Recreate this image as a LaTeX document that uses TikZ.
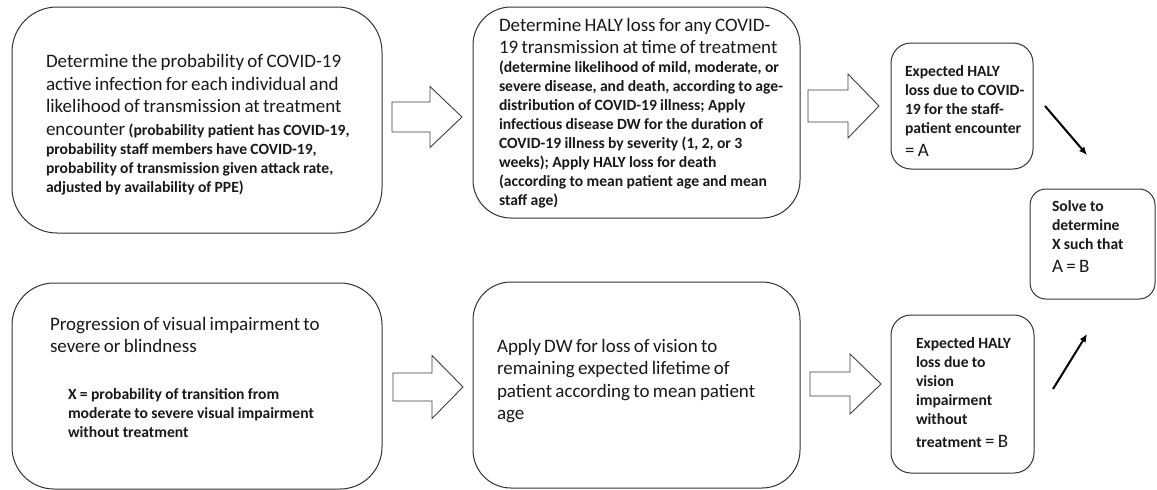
\documentclass[tikz,border=0pt]{standalone}
\usepackage{fontspec}
\setmainfont{Carlito}
\usetikzlibrary{arrows.meta}
\setlength{\parindent}{0pt}
\newcommand\fbig{\fontsize{19}{22.5}\selectfont\mdseries}
\newcommand\fsml{\fontsize{15.6}{19}\selectfont\bfseries}
\newcommand\firstln{\rule{0pt}{14pt}}
\newcommand\blkarrow[6]{%
  \draw[blockarr] (#1,#4-#5) -- (#2,#4-#5) -- (#2,#4-#6) -- (#3,#4) -- (#2,#4+#6) -- (#2,#4+#5) -- (#1,#4+#5) -- cycle;}
\begin{document}
\begin{tikzpicture}[x=1pt,y=-1pt,
  box/.style={draw=black!80, line width=1pt, rectangle, rounded corners=#1, inner sep=0pt, outer sep=0pt, fill=white},
  txt/.style={anchor=north west, inner sep=0pt, outer sep=0pt, align=left, text width=400pt, text=black!90},
  blockarr/.style={draw=black!75, line width=0.9pt, fill=white, line join=miter},
  diag/.style={draw=black, line width=2pt, -{Latex[length=8pt,width=7pt]}}
]
\useasboundingbox[fill=white] (0,0) rectangle (1157,490);

% boxes
\node[box=45pt, minimum width=370pt, minimum height=226pt] (b1) at (197,120) {};
\node[box=38pt, minimum width=327pt, minimum height=211pt] (b2) at (636.5,112.5) {};
\node[box=20pt, minimum width=142pt, minimum height=126pt] (b3) at (962,106) {};
\node[box=16pt, minimum width=125pt, minimum height=110pt] (b4) at (1092.5,244) {};
\node[box=20pt, minimum width=143pt, minimum height=158pt] (b5) at (962.5,394) {};
\node[box=42pt, minimum width=370pt, minimum height=206pt] (b6) at (197,386) {};
\node[box=38pt, minimum width=327pt, minimum height=206pt] (b7) at (636.5,385) {};

% texts
\node[txt] (t1) at (46,53.5) {\fbig\firstln Determine the probability of COVID-19\par
active infection for each individual and\par
likelihood of transmission at treatment\par
encounter {\fsml (probability patient has COVID-19,}\par
\fsml probability staff members have COVID-19,\par
probability of transmission given attack rate,\par
adjusted by availability of PPE)\par};

\node[txt] (t2) at (499,17.3) {\fbig\firstln Determine HALY loss for any COVID-\par
19 transmission at time of treatment\par
\fsml (determine likelihood of mild, moderate, or\par
severe disease, and death, according to age-\par
distribution of COVID-19 illness; Apply\par
infectious disease DW for the duration of\par
COVID-19 illness by severity (1, 2, or 3\par
weeks); Apply HALY loss for death\par
(according to mean patient age and mean\par
staff age)\par};

\node[txt] (t3) at (905,62.6) {\fsml\firstln Expected HALY\par
loss due to COVID-\par
19 for the staff-\par
patient encounter\par
\fbig = A\par};

\node[txt] (t4) at (1052,197.6) {\fsml\firstln Solve to\par
determine\par
X such that\par
\fbig A = B\par};

\node[txt] (t5) at (916,334.6) {\fsml\firstln Expected HALY\par
loss due to\par
vision\par
impairment\par
without\par
\fbig{\fsml treatment} = B\par};

\node[txt] (t6a) at (50,316.3) {\fbig\firstln Progression of visual impairment to\par
severe or blindness\par};
\node[txt] (t6b) at (68,385.6) {\fsml\firstln X = probability of transition from\par
moderate to severe visual impairment\par
without treatment\par};

\node[txt] (t7) at (497,338.3) {\fbig\firstln Apply DW for loss of vision to\par
remaining expected lifetime of\par
patient according to mean patient\par
age\par};

% block arrows: tail, base, tip, centre y, half shaft, half head
\blkarrow{392}{430}{462}{117}{15}{30.5}
\blkarrow{808}{848}{879}{106}{16}{32}
\blkarrow{393}{432}{463}{387}{14}{31.5}
\blkarrow{810}{850}{881}{384}{12}{30}

% diagonal arrows
\coordinate (d1s) at (1045,106);
\coordinate (d1e) at (1087,155);
\coordinate (d2s) at (1053,389);
\coordinate (d2e) at (1087,334);
\draw[diag] (d1s) -- (d1e);
\draw[diag] (d2s) -- (d2e);
\end{tikzpicture}
\end{document}
